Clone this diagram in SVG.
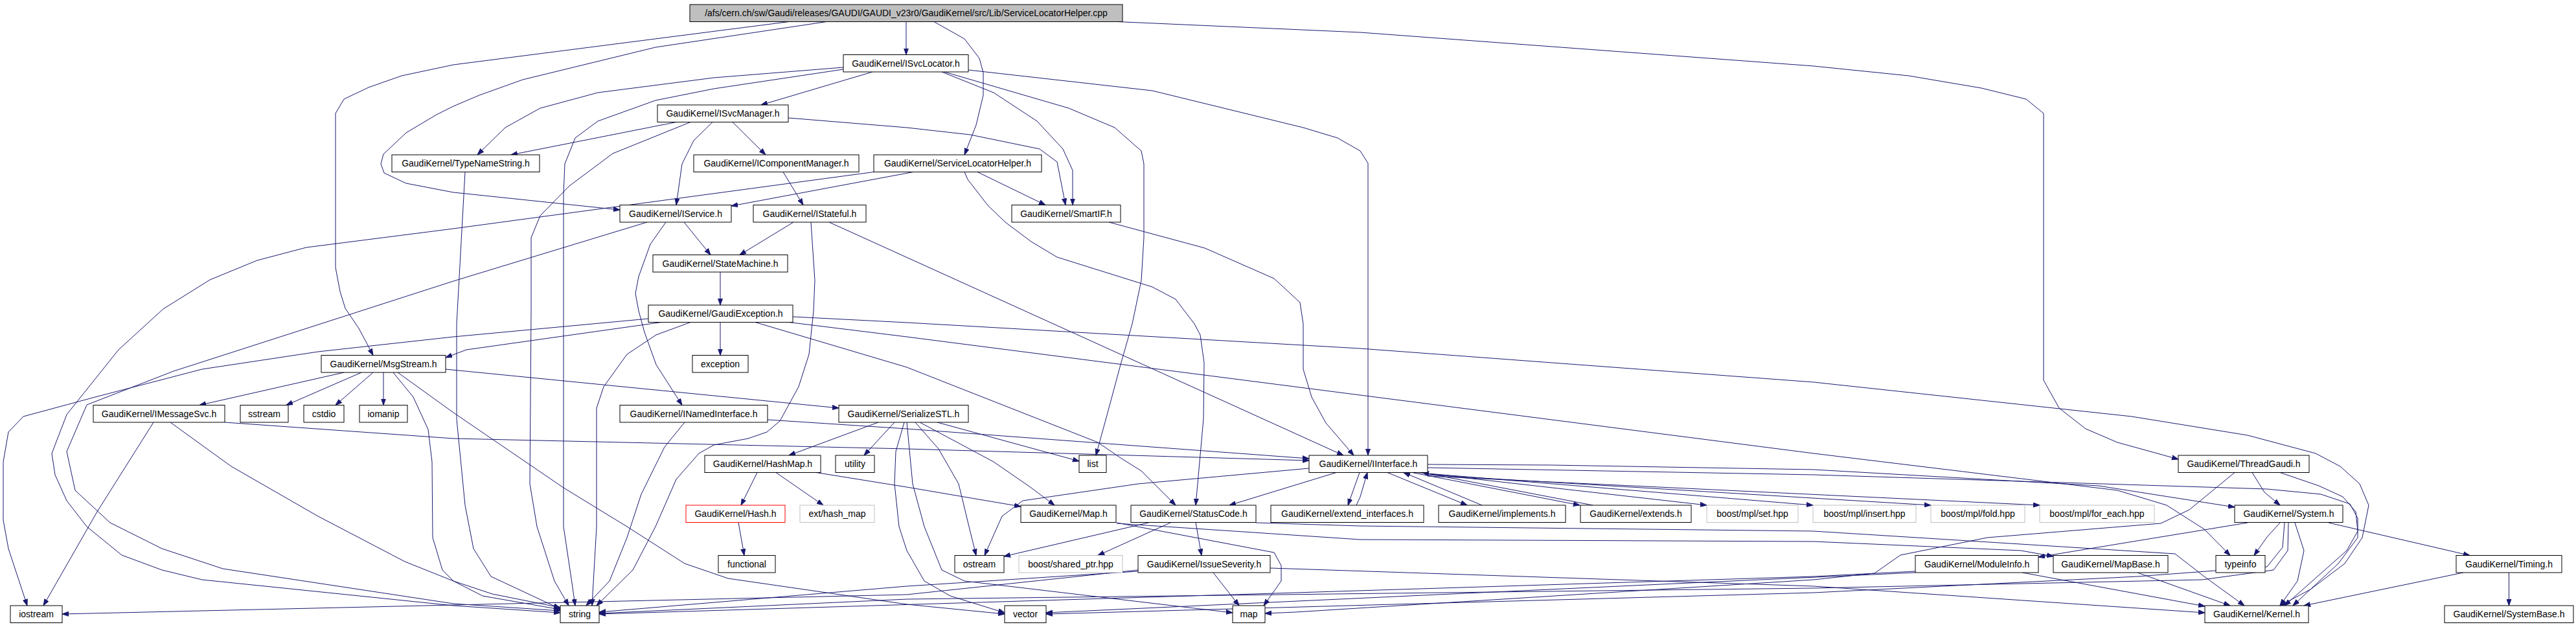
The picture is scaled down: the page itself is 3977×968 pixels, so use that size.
<svg xmlns="http://www.w3.org/2000/svg" width="3977" height="968" viewBox="0 0 3977 968">
<style>
.n rect{fill:#fff;stroke:#000;stroke-width:1}
.n.root rect{fill:#bfbfbf}
.n.gray rect{stroke:#bfbfbf}
.n.red rect{stroke:#ff0000}
.n text{font-family:"Liberation Sans",Arial,sans-serif;font-size:14px;text-anchor:middle;fill:#000}
#edges path{fill:none;stroke:#191970;stroke-width:1;marker-end:url(#ah)}
</style>
<defs>
<marker id="ah" markerWidth="11" markerHeight="8" refX="10" refY="4" orient="auto" markerUnits="userSpaceOnUse"><path d="M0,0.5 L10,4 L0,7.5 z" fill="#191970" stroke="#191970" stroke-width="1"/></marker>
</defs>
<rect x="0" y="0" width="3977" height="968" fill="#fff"/>
<g id="edges">
<path d="M1399,33.5 L1399,84.5"/>
<path d="M1442,33.5 L1489,60 L1512,90 L1518,112 L1518,147 L1507,193 L1489,239"/>
<path d="M1725,33.5 L2100,50 L2800,102 L2947,117 L3059,136 L3128,153 L3155,175 L3155,587 L3179,630 L3220,662 L3269,683 L3363,709"/>
<path d="M1218,33.5 L700,100 L620,117 L569,135 L531,153 L518,175 L518,413 L525,450 L533,476 L554,507 L576,548.5"/>
<path d="M1276,33.5 L1012,73 L807,123 L740,147 L700,164 L674,177 L627,205 L592,238 L588,253 L593,267 L627,283 L700,297 L957,324"/>
<path d="M1347,111 L1175,162"/>
<path d="M1302,104 L1102,120 L923,143 L834,167 L780,197 L737,239"/>
<path d="M1302,107 L1102,137 L1012,155 L923,187 L888,213 L872,253 L870,300 L870,813 L883,900 L888,935"/>
<path d="M1454,111 L1534,143 L1601,187 L1641,230 L1656,263 L1656,316.5"/>
<path d="M1458,111 L1650,167 L1721,197 L1762,233 L1766,253 L1766,367 L1762,433 L1748,500 L1730,563 L1712,630 L1692,703"/>
<path d="M1495,108 L1779,140 L2012,197 L2065,213 L2100,233 L2112,252 L2112,703"/>
<path d="M1044,188.5 L789,239"/>
<path d="M1100,188.5 L1071,217 L1053,253 L1044,316.5"/>
<path d="M1131,188.5 L1182,239"/>
<path d="M1066,188.5 L946,237 L879,287 L834,333 L820,367 L820,480 L818,747 L829,813 L856,897 L878,935"/>
<path d="M1217,182 L1400,197 L1498,208 L1605,230 L1632,250 L1645,316.5"/>
<path d="M1209,265.5 L1240,316.5"/>
<path d="M1410,265.5 L1129,318"/>
<path d="M1509,265.5 L1614,316.5"/>
<path d="M1489,265.5 L1494,277 L1525,317 L1552,343 L1592,373 L1632,397 L1779,443 L1815,462 L1844,500 L1853,517 L1859,560 L1858,647 L1846,780"/>
<path d="M1349,265.5 L700,353 L473,382 L397,402 L324,432 L252,477 L183,540 L103,640 L80,700 L85,733 L103,773 L134,813 L188,857 L250,880 L312,895 L700,935 L865,946"/>
<path d="M718,265.5 L705,500 L705,647 L718,780 L731,847 L758,890 L865,940"/>
<path d="M1056,343 L1097,393.5"/>
<path d="M1028,343 L1004,377 L986,427 L981,453 L986,480 L995,513 L1013,563 L1053,625.5"/>
<path d="M999,343 L700,434 L495,500 L268,573 L134,625 L103,697 L116,757 L170,807 L250,847 L344,878 L700,932 L865,943"/>
<path d="M1225,343 L1142,393.5"/>
<path d="M1252,343 L1258,433 L1256,480 L1249,547 L1233,597 L1204,650 L1184,667 L1155,677 L1102,687 L1079,700 L1044,740 L1012,813 L977,880 L921,935"/>
<path d="M1280,343 L2074,703"/>
<path d="M1712,343 L1860,383 L1967,430 L2007,467 L2012,500 L2012,570 L2025,613 L2047,653 L2090,703"/>
<path d="M1112,420 L1112,471"/>
<path d="M1112,497.5 L1112,548.5"/>
<path d="M1021,497.5 L720,540 L688,552"/>
<path d="M1001,492 L700,520 L491,543 L312,570 L147,613 L36,643 L13,667 L5,713 L5,803 L13,847 L42,935"/>
<path d="M1066,497.5 L1013,517 L968,547 L932,597 L921,630 L921,813 L914,935"/>
<path d="M1166,497.5 L1400,567 L1695,683 L1730,707 L1762,727 L1815,780"/>
<path d="M1224,489 L1400,498 L2100,538 L2800,590 L3291,643 L3470,672 L3500,680 L3575,700 L3613,720 L3643,747 L3657,780 L3647,830 L3620,870 L3567,910 L3520,935"/>
<path d="M1218,497.5 L1400,520 L2100,610 L2800,700 L3269,757 L3345,780 L3403,817 L3443,857.5"/>
<path d="M531,575 L308,625.5"/>
<path d="M558,575 L442,625.5"/>
<path d="M576,575 L518,625.5"/>
<path d="M592,575 L592,625.5"/>
<path d="M607,575 L638,613 L661,663 L667,713 L668,830 L683,880 L700,897 L745,920 L865,941"/>
<path d="M688,570 L1295,630"/>
<path d="M614,575 L700,637 L870,753 L968,813 L1057,870 L1124,893 L1400,933 L1551,948"/>
<path d="M237,652 L150,790 L67,935"/>
<path d="M263,652 L357,720 L491,797 L625,867 L700,897 L760,917 L865,938"/>
<path d="M347,652 L700,677 L1400,693 L2021,711"/>
<path d="M1185,648 L1400,662 L2021,708"/>
<path d="M1057,652 L1026,690 L990,763 L968,830 L941,897 L905,935"/>
<path d="M1356,652 L1280,680 L1218,703"/>
<path d="M1381,652 L1334,703"/>
<path d="M1447,652 L1666,712"/>
<path d="M1420,652 L1534,713 L1592,753 L1628,780"/>
<path d="M1413,652 L1449,693 L1480,747 L1496,813 L1507,857.5"/>
<path d="M1396,652 L1383,697 L1381,747 L1388,813 L1400,850 L1427,897 L1467,920 L1551,946"/>
<path d="M1400,652 L1409,747 L1427,813 L1454,880 L1489,897 L1903,946"/>
<path d="M1169,729.5 L1144,780"/>
<path d="M1198,729.5 L1271,780"/>
<path d="M1260,729.5 L1400,752 L1576,782"/>
<path d="M1140,806.5 L1149,857.5"/>
<path d="M1724,807 L1967,853 L1978,873 L1978,897 L1951,935"/>
<path d="M1724,808 L2100,833 L2800,836 L3120,850 L3170,859"/>
<path d="M1775,806.5 L1550,859"/>
<path d="M1808,806.5 L1695,857.5"/>
<path d="M1846,806.5 L1855,857.5"/>
<path d="M1939,807 L2100,812 L2800,820 L3358,855 L3403,890 L3465,935"/>
<path d="M1873,884 L1913,935"/>
<path d="M1757,882 L1400,905 L925,945"/>
<path d="M1757,880 L1400,918 L700,934 L96,948"/>
<path d="M1961,877 L2800,905 L3404,946"/>
<path d="M2063,729.5 L1898,780"/>
<path d="M2021,723 L1757,747 L1579,773 L1547,797 L1520,857.5"/>
<path d="M2099,729.5 L2081,780"/>
<path d="M2094,780 L2100,767 L2111,729.5"/>
<path d="M2142,729.5 L2265,780"/>
<path d="M2288,780 L2167,729.5"/>
<path d="M2180,729.5 L2439,780"/>
<path d="M2459,780 L2196,729.5"/>
<path d="M2189,729.5 L2635,780"/>
<path d="M2203,731 L2799,780"/>
<path d="M2204,733 L2981,780"/>
<path d="M2204,735 L3149,780"/>
<path d="M2204,717 L2395,718 L2800,725 L3240,750 L3450,783"/>
<path d="M2204,722 L2800,733 L3500,755 L3583,763 L3628,778 L3640,800 L3640,830 L3610,870 L3540,935"/>
<path d="M3520,807 L3500,829 L3480,857.5"/>
<path d="M3595,807 L3813,857.5"/>
<path d="M3543,807 L3557,850 L3547,897 L3520,935"/>
<path d="M3470,807 L3147,860"/>
<path d="M3533,807 L3532,850 L3510,880 L3400,895 L2800,908 L1400,925 L925,947"/>
<path d="M3527,807 L3524,845 L3500,875 L3300,890 L2800,915 L1615,948"/>
<path d="M3477,729.5 L3496,760 L3520,780"/>
<path d="M3520,729.5 L3580,750 L3617,767 L3637,790 L3640,820 L3623,850 L3527,935"/>
<path d="M3450,729.5 L3380,787 L3336,808 L3068,830 L2934,857 L2894,885 L2800,895 L2000,945 L1953,947"/>
<path d="M3122,884 L3404,936"/>
<path d="M2957,882 L2800,890 L2000,915 L925,948"/>
<path d="M2957,884 L2500,905 L1615,946"/>
<path d="M3300,884 L3443,935"/>
<path d="M3803,884 L3557,935"/>
<path d="M3873.5,884 L3873.5,935"/>
</g>
<g id="n_root" class="n root"><rect x="1065" y="7" width="668" height="26.5"/><text x="1399" y="25">/afs/cern.ch/sw/Gaudi/releases/GAUDI/GAUDI_v23r0/GaudiKernel/src/Lib/ServiceLocatorHelper.cpp</text></g>
<g id="n_isvclocator" class="n"><rect x="1302" y="84.5" width="193" height="26.5"/><text x="1398.5" y="102.5">GaudiKernel/ISvcLocator.h</text></g>
<g id="n_isvcmanager" class="n"><rect x="1015" y="162" width="202" height="26.5"/><text x="1116" y="180">GaudiKernel/ISvcManager.h</text></g>
<g id="n_typenamestring" class="n"><rect x="605" y="239" width="228" height="26.5"/><text x="719" y="257">GaudiKernel/TypeNameString.h</text></g>
<g id="n_icomponentmanager" class="n"><rect x="1071" y="239" width="255" height="26.5"/><text x="1198.5" y="257">GaudiKernel/IComponentManager.h</text></g>
<g id="n_servicelocatorhelper" class="n"><rect x="1349" y="239" width="259" height="26.5"/><text x="1478.5" y="257">GaudiKernel/ServiceLocatorHelper.h</text></g>
<g id="n_iservice" class="n"><rect x="957" y="316.5" width="172" height="26.5"/><text x="1043" y="334.5">GaudiKernel/IService.h</text></g>
<g id="n_istateful" class="n"><rect x="1163" y="316.5" width="174" height="26.5"/><text x="1250" y="334.5">GaudiKernel/IStateful.h</text></g>
<g id="n_smartif" class="n"><rect x="1562" y="316.5" width="168" height="26.5"/><text x="1646" y="334.5">GaudiKernel/SmartIF.h</text></g>
<g id="n_statemachine" class="n"><rect x="1008" y="393.5" width="208" height="26.5"/><text x="1112" y="411.5">GaudiKernel/StateMachine.h</text></g>
<g id="n_gaudiexception" class="n"><rect x="1001" y="471" width="223" height="26.5"/><text x="1112.5" y="489">GaudiKernel/GaudiException.h</text></g>
<g id="n_msgstream" class="n"><rect x="496" y="548.5" width="192" height="26.5"/><text x="592" y="566.5">GaudiKernel/MsgStream.h</text></g>
<g id="n_exception" class="n"><rect x="1069" y="548.5" width="86" height="26.5"/><text x="1112" y="566.5">exception</text></g>
<g id="n_imessagesvc" class="n"><rect x="144" y="625.5" width="203" height="26.5"/><text x="245.5" y="643.5">GaudiKernel/IMessageSvc.h</text></g>
<g id="n_sstream" class="n"><rect x="371" y="625.5" width="74" height="26.5"/><text x="408" y="643.5">sstream</text></g>
<g id="n_cstdio" class="n"><rect x="469" y="625.5" width="62" height="26.5"/><text x="500" y="643.5">cstdio</text></g>
<g id="n_iomanip" class="n"><rect x="555" y="625.5" width="74" height="26.5"/><text x="592" y="643.5">iomanip</text></g>
<g id="n_inamedinterface" class="n"><rect x="957" y="625.5" width="228" height="26.5"/><text x="1071" y="643.5">GaudiKernel/INamedInterface.h</text></g>
<g id="n_serializestl" class="n"><rect x="1295" y="625.5" width="200" height="26.5"/><text x="1395" y="643.5">GaudiKernel/SerializeSTL.h</text></g>
<g id="n_hashmap" class="n"><rect x="1088" y="703" width="179" height="26.5"/><text x="1177.5" y="721">GaudiKernel/HashMap.h</text></g>
<g id="n_utility" class="n"><rect x="1290" y="703" width="60" height="26.5"/><text x="1320" y="721">utility</text></g>
<g id="n_list" class="n"><rect x="1666" y="703" width="42" height="26.5"/><text x="1687" y="721">list</text></g>
<g id="n_iinterface" class="n"><rect x="2021" y="703" width="183" height="26.5"/><text x="2112.5" y="721">GaudiKernel/IInterface.h</text></g>
<g id="n_threadgaudi" class="n"><rect x="3363" y="703" width="202" height="26.5"/><text x="3464" y="721">GaudiKernel/ThreadGaudi.h</text></g>
<g id="n_hash" class="n red"><rect x="1059" y="780" width="153" height="26.5"/><text x="1135.5" y="798">GaudiKernel/Hash.h</text></g>
<g id="n_ext_hash_map" class="n gray"><rect x="1235" y="780" width="115" height="26.5"/><text x="1292.5" y="798">ext/hash_map</text></g>
<g id="n_map_h" class="n"><rect x="1576" y="780" width="147" height="26.5"/><text x="1649.5" y="798">GaudiKernel/Map.h</text></g>
<g id="n_statuscode" class="n"><rect x="1746" y="780" width="193" height="26.5"/><text x="1842.5" y="798">GaudiKernel/StatusCode.h</text></g>
<g id="n_extend_interfaces" class="n"><rect x="1962" y="780" width="236" height="26.5"/><text x="2080" y="798">GaudiKernel/extend_interfaces.h</text></g>
<g id="n_implements" class="n"><rect x="2221" y="780" width="196" height="26.5"/><text x="2319" y="798">GaudiKernel/implements.h</text></g>
<g id="n_extends" class="n"><rect x="2440" y="780" width="171" height="26.5"/><text x="2525.5" y="798">GaudiKernel/extends.h</text></g>
<g id="n_mpl_set" class="n gray"><rect x="2635" y="780" width="141" height="26.5"/><text x="2705.5" y="798">boost/mpl/set.hpp</text></g>
<g id="n_mpl_insert" class="n gray"><rect x="2799" y="780" width="159" height="26.5"/><text x="2878.5" y="798">boost/mpl/insert.hpp</text></g>
<g id="n_mpl_fold" class="n gray"><rect x="2981" y="780" width="145" height="26.5"/><text x="3053.5" y="798">boost/mpl/fold.hpp</text></g>
<g id="n_mpl_for_each" class="n gray"><rect x="3149" y="780" width="177" height="26.5"/><text x="3237.5" y="798">boost/mpl/for_each.hpp</text></g>
<g id="n_system" class="n"><rect x="3450" y="780" width="167" height="26.5"/><text x="3533.5" y="798">GaudiKernel/System.h</text></g>
<g id="n_functional" class="n"><rect x="1109" y="857.5" width="88" height="26.5"/><text x="1153" y="875.5">functional</text></g>
<g id="n_ostream" class="n"><rect x="1474" y="857.5" width="76" height="26.5"/><text x="1512" y="875.5">ostream</text></g>
<g id="n_shared_ptr" class="n gray"><rect x="1573" y="857.5" width="160" height="26.5"/><text x="1653" y="875.5">boost/shared_ptr.hpp</text></g>
<g id="n_issueseverity" class="n"><rect x="1757" y="857.5" width="204" height="26.5"/><text x="1859" y="875.5">GaudiKernel/IssueSeverity.h</text></g>
<g id="n_moduleinfo" class="n"><rect x="2957" y="857.5" width="190" height="26.5"/><text x="3052" y="875.5">GaudiKernel/ModuleInfo.h</text></g>
<g id="n_mapbase" class="n"><rect x="3170" y="857.5" width="177" height="26.5"/><text x="3258.5" y="875.5">GaudiKernel/MapBase.h</text></g>
<g id="n_typeinfo" class="n"><rect x="3421" y="857.5" width="76" height="26.5"/><text x="3459" y="875.5">typeinfo</text></g>
<g id="n_timing" class="n"><rect x="3792" y="857.5" width="163" height="26.5"/><text x="3873.5" y="875.5">GaudiKernel/Timing.h</text></g>
<g id="n_iostream" class="n"><rect x="16" y="935" width="80" height="26.5"/><text x="56" y="953">iostream</text></g>
<g id="n_string" class="n"><rect x="865" y="935" width="60" height="26.5"/><text x="895" y="953">string</text></g>
<g id="n_vector" class="n"><rect x="1551" y="935" width="64" height="26.5"/><text x="1583" y="953">vector</text></g>
<g id="n_map" class="n"><rect x="1903" y="935" width="50" height="26.5"/><text x="1928" y="953">map</text></g>
<g id="n_kernel" class="n"><rect x="3404" y="935" width="160" height="26.5"/><text x="3484" y="953">GaudiKernel/Kernel.h</text></g>
<g id="n_systembase" class="n"><rect x="3774" y="935" width="199" height="26.5"/><text x="3873.5" y="953">GaudiKernel/SystemBase.h</text></g>
</svg>
